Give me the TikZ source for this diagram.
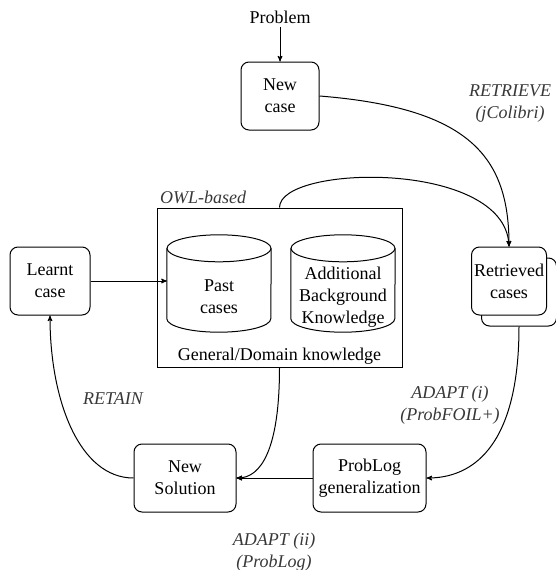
\documentclass[tikz,border=0pt]{standalone}
\usepackage{fontspec}
\setmainfont{Liberation Serif}
\usetikzlibrary{arrows,calc,positioning,shapes.geometric}
\tikzset{
>=stealth',
  basefont/.style={font=\fontsize{18pt}{22pt}\selectfont},
  casebox/.style={
    rectangle,
    rounded corners=8pt,
    draw=black, line width=1pt,
    fill=white,
    minimum height=68pt,
    inner sep=0pt,
    align=center,
    basefont},
  store/.style={
    rectangle,
    minimum width=104pt,
    minimum height=70pt,
    inner sep=0pt,
    align=center,
    basefont},
  storeline/.style={draw=black, line width=1pt},
  steplabel/.style={align=center, text=black!78,
    font=\fontsize{18pt}{22pt}\selectfont\itshape},
  line/.style={draw, line width=1pt, ->},
}
% cylinder outline round a store node (the node is the body below the lid)
\newcommand{\drawstore}[1]{%
  \path[storeline] ($(#1.north west)+(0,-13.5)$) -- ($(#1.south west)+(0,-13.5)$)
    arc[start angle=180, end angle=360, x radius=52pt, y radius=13.5pt]
    -- ($(#1.north east)+(0,-13.5)$);
  \path[storeline] ($(#1.north)+(0,-13.5)$) ellipse [x radius=52pt, y radius=13.5pt];
}

\begin{document}
\begin{tikzpicture}[x=1pt, y=-1pt]
  \useasboundingbox (0,0) rectangle (555,570);

  % knowledge base
  \node[draw=black, line width=1pt, minimum width=245pt, minimum height=159pt] (kbframe) at (279.5,287.5) {};
  \node[steplabel, above right=0pt and 0pt of kbframe.north west] (owllbl) {OWL-based};
  \node[store] (pastcases) at (219,297) {Past\\cases};
  \node[store] (bgknow) at (343,297) {Additional\\Background\\Knowledge};
  \drawstore{pastcases}
  \drawstore{bgknow}
  \node[basefont, above=0pt of kbframe.south] (kblbl) {General/Domain knowledge};

  % cycle steps
  \node[casebox, minimum width=78pt] (newcase) at (280,96) {New\\case};
  \node[basefont] (problem) at (280,17) {Problem};
  \node[casebox, minimum width=75pt] (retrievedback) at (519,292) {};
  \node[casebox, minimum width=75pt] (retrieved) at (509,281) {Retrieved\\cases};
  \node[casebox, minimum width=113pt] (problog) at (369.5,478) {ProbLog\\generalization};
  \node[casebox, minimum width=102pt] (newsol) at (185,478) {New\\Solution};
  \node[casebox, minimum width=80pt] (learnt) at (50,281) {Learnt\\case};

  % step labels
  \node[steplabel] (retrievelbl) at (510,104) {RETRIEVE\\(jColibri)};
  \node[steplabel] (adaptilbl) at (450,405) {ADAPT (i)\\(ProbFOIL+)};
  \node[steplabel] (retainlbl) at (113,399) {RETAIN};
  \node[steplabel] (adaptiilbl) at (274,552) {ADAPT (ii)\\(ProbLog)};

  \path[line] (problem) -- (newcase);
  \path[line] (newcase.east) .. controls +(150,12) and +(0,-90) .. (retrieved.north);
  \path[line] (kbframe.north) .. controls +(0,-43) and +(-4,-87) .. (retrieved.north);
  \path[line] (retrievedback.south) .. controls +(0,124) and +(43,0) .. (problog.east);
  \path[line] (problog) -- (newsol);
  \path[line] (kbframe.south) .. controls +(0,83) and +(24,0) .. (newsol.east);
  \path[line] (newsol.west) .. controls +(-54,0) and +(0,85) .. (learnt.south);
  \path[line] (learnt.east) -- (learnt.east -| pastcases.west);

\end{tikzpicture}
\end{document}
